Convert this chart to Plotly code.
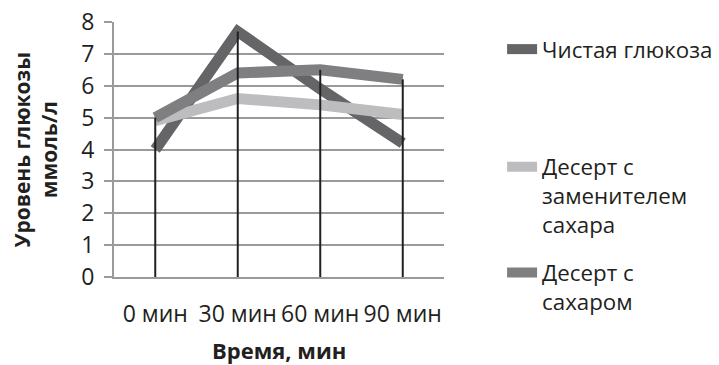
import plotly.graph_objects as go

categories = ["0 мин", "30 мин", "60 мин", "90 мин"]
glucose = [4.0, 7.7, 5.9, 4.2]
substitute = [4.9, 5.6, 5.4, 5.1]
sugar = [5.0, 6.4, 6.5, 6.2]

series_names = ["Чистая глюкоза", "Десерт с<br>заменителем<br>сахара", "Десерт с<br>сахаром"]
series_values = [glucose, substitute, sugar]
series_colors = ["#656567", "#bdbdbf", "#7f7f81"]
legend_ids = ["legend", "legend2", "legend3"]
legend_y = [0.976, 0.515, 0.1]

FONT = "Open Sans"
TXT = "#231f20"
GRID = "#9a9a9a"
fig = go.Figure()

for name, vals, col, lg in zip(series_names, series_values, series_colors, legend_ids):
    fig.add_trace(go.Scatter(
        x=categories, y=vals, mode="lines", name=name,
        line=dict(color=col, width=11), legend=lg,
    ))

# drop lines from 0 to the highest series value at each category
drop_x, drop_y = [], []
for j, c in enumerate(categories):
    top = max(v[j] for v in series_values)
    drop_x += [c, c, None]
    drop_y += [0, top, None]
fig.add_trace(go.Scatter(x=drop_x, y=drop_y, mode="lines",
                         line=dict(color=TXT, width=2),
                         showlegend=False, hoverinfo="skip"))

legends = {}
for lg, ly in zip(legend_ids, legend_y):
    legends[lg] = dict(x=1.176, xanchor="left", y=ly, yanchor="top", valign="top",
                       bgcolor="rgba(0,0,0,0)",
                       font=dict(family=FONT, size=22.3, color=TXT))

fig.update_layout(
    width=745, height=365,
    margin=dict(l=114, r=301, t=22, b=88),
    paper_bgcolor="white", plot_bgcolor="white",
    font=dict(family=FONT, size=22, color=TXT),
    showlegend=True,
    **legends,
    xaxis=dict(type="category", range=[-0.5, 3.5], showgrid=False, automargin=False,
               showline=True, linecolor=GRID, linewidth=2, tickangle=0,
               ticklabeloverflow="allow",
               ticks="", tickfont=dict(size=23), ticklabelstandoff=15),
    yaxis=dict(range=[0, 8], dtick=1, showgrid=True, gridcolor=GRID, gridwidth=2,
               automargin=False, ticklabeloverflow="allow",
               showline=True, linecolor=GRID, linewidth=2,
               ticks="outside", ticklen=8, tickcolor=GRID, tickwidth=2,
               tickfont=dict(size=23), zeroline=False, ticklabelstandoff=5),
    annotations=[
        dict(text="<b>Уровень глюкозы<br>ммоль/л</b>", textangle=-90,
             xref="paper", yref="paper", x=(35 - 114) / 330, y=0.5,
             xanchor="center", yanchor="middle", showarrow=False,
             font=dict(family=FONT, size=21, color=TXT)),
        dict(text="<b>Время, мин</b>",
             xref="paper", yref="paper", x=0.5, y=(277 - 350) / 255,
             xanchor="center", yanchor="middle", showarrow=False,
             font=dict(family=FONT, size=22, color=TXT)),
    ],
)

fig.write_html("out.html", config={"displayModeBar": False},
               post_script="document.body.style.margin='0';document.body.style.overflow='hidden';")
